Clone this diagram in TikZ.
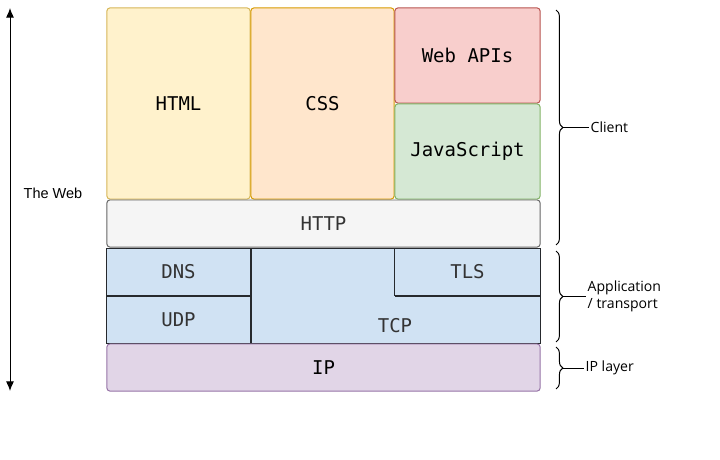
\documentclass[tikz,border=0pt]{standalone}
\usepackage{fontspec}
\setmainfont{Open Sans}
\setmonofont{DejaVu Sans Mono}
\newfontfamily\arialfont{Liberation Sans}
\usetikzlibrary{arrows.meta,decorations.pathreplacing}
\definecolor{htmlfill}{HTML}{FFF2CC}\definecolor{htmldraw}{HTML}{D6B656}
\definecolor{cssfill}{HTML}{FFE6CC}\definecolor{cssdraw}{HTML}{D79B00}
\definecolor{apifill}{HTML}{F8CECC}\definecolor{apidraw}{HTML}{B85450}
\definecolor{jsfill}{HTML}{D5E8D4}\definecolor{jsdraw}{HTML}{82B366}
\definecolor{httpfill}{HTML}{F5F5F5}\definecolor{httpdraw}{HTML}{666666}
\definecolor{netfill}{HTML}{D0E2F3}\definecolor{netdraw}{HTML}{26292D}
\definecolor{ipfill}{HTML}{E1D5E7}\definecolor{ipdraw}{HTML}{9673A6}
\definecolor{greytext}{HTML}{333333}
\tikzstyle{blk}=[draw,line width=0.7pt,inner sep=0pt,font=\ttfamily\fontsize{13.5}{16}\selectfont]
\tikzstyle{rnd}=[blk,rounded corners=2pt]
\tikzstyle{side}=[font=\fontsize{10}{12}\selectfont,inner sep=1pt]
\tikzstyle{brc}=[decorate,decoration={brace,amplitude=0.17cm},line width=0.7pt]

\begin{document}
\begin{tikzpicture}[x=0.025cm,y=-0.025cm,>={Latex[length=0.24cm,width=0.2cm]}]
\useasboundingbox (0,0) rectangle (720,459);
% client layer
\node[rnd,fill=htmlfill,draw=htmldraw,minimum width=3.575cm,minimum height=4.775cm] (html) at (178.5,103.5) {HTML};
\node[rnd,fill=cssfill,draw=cssdraw,minimum width=3.575cm,minimum height=4.775cm] (css) at (322.5,103.5) {CSS};
\node[rnd,fill=apifill,draw=apidraw,minimum width=3.625cm,minimum height=2.375cm] (webapis) at (467.5,55.5) {Web APIs};
\node[rnd,fill=jsfill,draw=jsdraw,minimum width=3.625cm,minimum height=2.375cm] (js) at (467.5,151.5) {JavaScript};
\node[rnd,fill=httpfill,draw=httpdraw,text=greytext,minimum width=10.825cm,minimum height=1.175cm] (http) at (323.5,223.5) {HTTP};
% application / transport
\node[blk,fill=netfill,draw=netdraw,text=greytext,minimum width=3.575cm,minimum height=1.175cm] (dns) at (178.5,271.5) {DNS};
\node[blk,fill=netfill,draw=netdraw,text=greytext,minimum width=3.575cm,minimum height=1.175cm] (udp) at (178.5,319.5) {UDP};
\draw[fill=netfill,draw=netdraw,line width=0.7pt] (251,248) -- (395,248) -- (395,296) -- (540,296) -- (540,343) -- (251,343) -- cycle;
\node[font=\ttfamily\fontsize{13.5}{16}\selectfont,text=greytext] (tcp) at (395,326) {TCP};
\node[blk,fill=netfill,draw=netdraw,text=greytext,minimum width=3.625cm,minimum height=1.175cm] (tls) at (467.5,271.5) {TLS};
% ip layer
\node[rnd,fill=ipfill,draw=ipdraw,minimum width=10.825cm,minimum height=1.175cm] (ip) at (323.5,367.5) {IP};
% the web arrow
\coordinate (webtop) at (10,8); \coordinate (webbot) at (10,391);
\draw[<->,line width=0.7pt] (webtop) -- (webbot);
\node[font=\arialfont\fontsize{10.3}{12}\selectfont] (web) at (53,193) {The Web};
% braces
\draw[brc] (556,10) -- (556,245) coordinate[midway,xshift=0.17cm] (cltip);
\node[side,anchor=west] (client) at (589,127.5) {Client};
\draw[line width=0.7pt] (cltip) -- (client.west);
\draw[brc] (556,251) -- (556,342) coordinate[midway,xshift=0.17cm] (aptip);
\node[side,anchor=west,align=left] (app) at (586,296.5) {Application\\/ transport};
\draw[line width=0.7pt] (aptip) -- (app.west);
\draw[brc] (556,347) -- (556,389) coordinate[midway,xshift=0.17cm] (iptip);
\node[side,anchor=west] (iplayer) at (584,368) {IP layer};
\draw[line width=0.7pt] (iptip) -- (iplayer.west);
\end{tikzpicture}
\end{document}
